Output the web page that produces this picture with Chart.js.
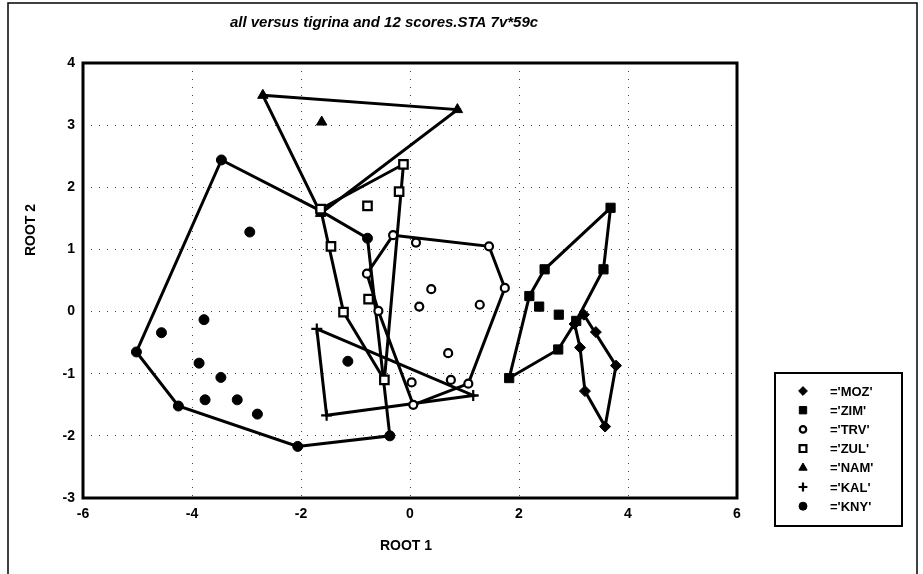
<!DOCTYPE html>
<html>
<head>
<meta charset="utf-8">
<title>ROOT 1 vs ROOT 2</title>
<script src="https://cdn.jsdelivr.net/npm/chart.js@4.4.1/dist/chart.umd.min.js"></script>
<style>
  html, body { margin: 0; padding: 0; background: #fff; }
  #wrap { position: relative; width: 923px; height: 574px; }
</style>
</head>
<body>
<div id="wrap"><canvas id="chart" width="923" height="574"></canvas></div>
<script>
// Canonical scores (ROOT 1, ROOT 2) per group
const mozPts = [[3.19, -0.05], [3.78, -0.87], [3.58, -1.85], [3.21, -1.28], [3.12, -0.58], [3.02, -0.20], [3.41, -0.33]];
const zimPts = [[1.82, -1.07], [2.19, 0.25], [2.47, 0.68], [3.68, 1.67], [3.55, 0.68], [3.05, -0.15], [2.72, -0.61], [2.37, 0.08], [2.73, -0.05]];
const trvPts = [[-0.31, 1.23], [1.45, 1.05], [1.74, 0.38], [1.07, -1.16], [0.06, -1.50], [-0.58, 0.01], [-0.79, 0.61],
                [0.11, 1.11], [0.39, 0.36], [0.17, 0.08], [1.28, 0.11], [0.70, -0.67], [0.03, -1.14], [0.75, -1.10]];
const zulPts = [[-1.64, 1.65], [-0.12, 2.37], [-0.47, -1.10], [-1.22, -0.01], [-0.20, 1.93], [-0.78, 1.70], [-1.45, 1.05], [-0.76, 0.20]];
const namPts = [[-2.70, 3.48], [0.87, 3.25], [-1.64, 1.58], [-1.62, 3.05]];
const kalPts = [[-1.71, -0.28], [1.16, -1.35], [-1.53, -1.67]];
const knyPts = [[-5.02, -0.65], [-3.46, 2.44], [-1.64, 1.62], [-0.78, 1.18], [-0.37, -2.00], [-2.06, -2.17], [-4.25, -1.52],
                [-2.94, 1.28], [-3.78, -0.13], [-4.56, -0.34], [-3.87, -0.83], [-3.47, -1.06], [-3.76, -1.42],
                [-3.17, -1.42], [-2.80, -1.65], [-1.14, -0.80]];

// hull outlines, as indices into each group's points
const mozHull = [0, 1, 2, 3, 4, 5];
const zimHull = [0, 1, 2, 3, 4, 5, 6];
const trvHull = [0, 1, 2, 3, 4, 5, 6];
const zulHull = [0, 1, 2, 3];
const namHull = [0, 1, 2];
const kalHull = [0, 1, 2];
const knyHull = [0, 1, 2, 3, 4, 5, 6];

const groupNames = ['MOZ', 'ZIM', 'TRV', 'ZUL', 'NAM', 'KAL', 'KNY'];
const legendLabels = ["='MOZ'", "='ZIM'", "='TRV'", "='ZUL'", "='NAM'", "='KAL'", "='KNY'"];
const xTicks = [-6, -4, -2, 0, 2, 4, 6];
const yTicks = [-3, -2, -1, 0, 1, 2, 3, 4];
const titleText = 'all versus tigrina and 12 scores.STA 7v*59c';

// marker look per group
const markers = {
    MOZ: { pointStyle: 'rectRot', radius: 5.5, fill: '#000', borderWidth: 1 },
    ZIM: { pointStyle: 'rect', radius: 6.5, fill: '#000', borderWidth: 1 },
    TRV: { pointStyle: 'circle', radius: 4, fill: '#fff', borderWidth: 2.2 },
    ZUL: { pointStyle: 'rect', radius: 6, fill: '#fff', borderWidth: 2.2 },
    NAM: { pointStyle: 'triangle', radius: 6, fill: '#000', borderWidth: 1 },
    KAL: { pointStyle: 'cross', radius: 5.5, fill: '#000', borderWidth: 2.2 },
    KNY: { pointStyle: 'circle', radius: 5, fill: '#000', borderWidth: 1 }
};

const groupPts = { MOZ: mozPts, ZIM: zimPts, TRV: trvPts, ZUL: zulPts, NAM: namPts, KAL: kalPts, KNY: knyPts };
const groupHull = { MOZ: mozHull, ZIM: zimHull, TRV: trvHull, ZUL: zulHull, NAM: namHull, KAL: kalHull, KNY: knyHull };

const FONT = '"Liberation Sans", Arial, sans-serif';

const datasets = [];
// markers first so they sit on top of the hull lines
groupNames.forEach(name => {
    const m = markers[name];
    datasets.push({
        label: name,
        data: groupPts[name].map(p => ({ x: p[0], y: p[1] })),
        showLine: false,
        pointStyle: m.pointStyle,
        pointRadius: m.radius,
        pointBackgroundColor: m.fill,
        pointBorderColor: '#000',
        pointBorderWidth: m.borderWidth
    });
});
groupNames.forEach(name => {
    const pts = groupPts[name];
    const hull = groupHull[name].concat([groupHull[name][0]]);
    datasets.push({
        label: name + ' hull',
        data: hull.map(i => ({ x: pts[i][0], y: pts[i][1] })),
        showLine: true,
        tension: 0,
        fill: false,
        borderColor: '#000',
        borderWidth: 3,
        pointRadius: 0
    });
});

// frame, title, axis titles and legend box
const decor = {
    id: 'decor',
    afterDraw(chart) {
        const ctx = chart.ctx;
        const a = chart.chartArea;
        ctx.save();
        ctx.strokeStyle = '#000';
        ctx.fillStyle = '#000';

        ctx.lineWidth = 3;
        ctx.strokeRect(a.left, a.top, a.right - a.left, a.bottom - a.top);

        ctx.lineWidth = 1.5;
        ctx.strokeRect(8, 3, 909, 600);

        ctx.font = 'bold italic 15px ' + FONT;
        ctx.textAlign = 'center';
        ctx.textBaseline = 'middle';
        ctx.fillText(titleText, 384, 23);

        ctx.font = 'bold 14px ' + FONT;
        ctx.fillText('ROOT 1', 406, 546);
        ctx.save();
        ctx.translate(31, 230);
        ctx.rotate(-Math.PI / 2);
        ctx.fillText('ROOT 2', 0, 0);
        ctx.restore();

        // legend
        ctx.lineWidth = 2;
        ctx.strokeRect(775, 373, 127, 153);
        ctx.font = 'bold 13px ' + FONT;
        ctx.textAlign = 'left';
        groupNames.forEach((name, i) => {
            const m = markers[name];
            const y = 391 + i * 19.2;
            ctx.fillStyle = m.fill;
            ctx.strokeStyle = '#000';
            ctx.lineWidth = m.borderWidth;
            Chart.helpers.drawPoint(ctx, {
                pointStyle: m.pointStyle,
                radius: m.radius * 0.8,
                borderWidth: m.borderWidth,
                rotation: 0
            }, 803, y);
            ctx.fillStyle = '#000';
            ctx.fillText(legendLabels[i], 830, y + 1);
        });
        ctx.restore();
    }
};

const tickFont = { family: FONT, size: 14, weight: 'bold' };

new Chart(document.getElementById('chart').getContext('2d'), {
    type: 'scatter',
    data: { datasets: datasets },
    options: {
        responsive: false,
        animation: false,
        layout: { padding: { top: 63, right: 186, bottom: 0, left: 0 } },
        plugins: {
            legend: { display: false },
            tooltip: { enabled: false },
            title: { display: false }
        },
        scales: {
            x: {
                type: 'linear',
                min: xTicks[0],
                max: xTicks[xTicks.length - 1],
                afterBuildTicks: scale => { scale.ticks = xTicks.map(v => ({ value: v })); },
                afterFit: scale => { scale.height = 76; },
                ticks: { color: '#000', font: tickFont, padding: 8 },
                grid: { color: '#444', lineWidth: 1, drawTicks: false },
                border: { display: false, dash: [1, 7] }
            },
            y: {
                type: 'linear',
                min: yTicks[0],
                max: yTicks[yTicks.length - 1],
                afterBuildTicks: scale => { scale.ticks = yTicks.map(v => ({ value: v })); },
                afterFit: scale => { scale.width = 83; },
                ticks: { color: '#000', font: tickFont, padding: 8 },
                grid: { color: '#444', lineWidth: 1, drawTicks: false },
                border: { display: false, dash: [1, 7] }
            }
        }
    },
    plugins: [decor]
});
</script>
</body>
</html>
